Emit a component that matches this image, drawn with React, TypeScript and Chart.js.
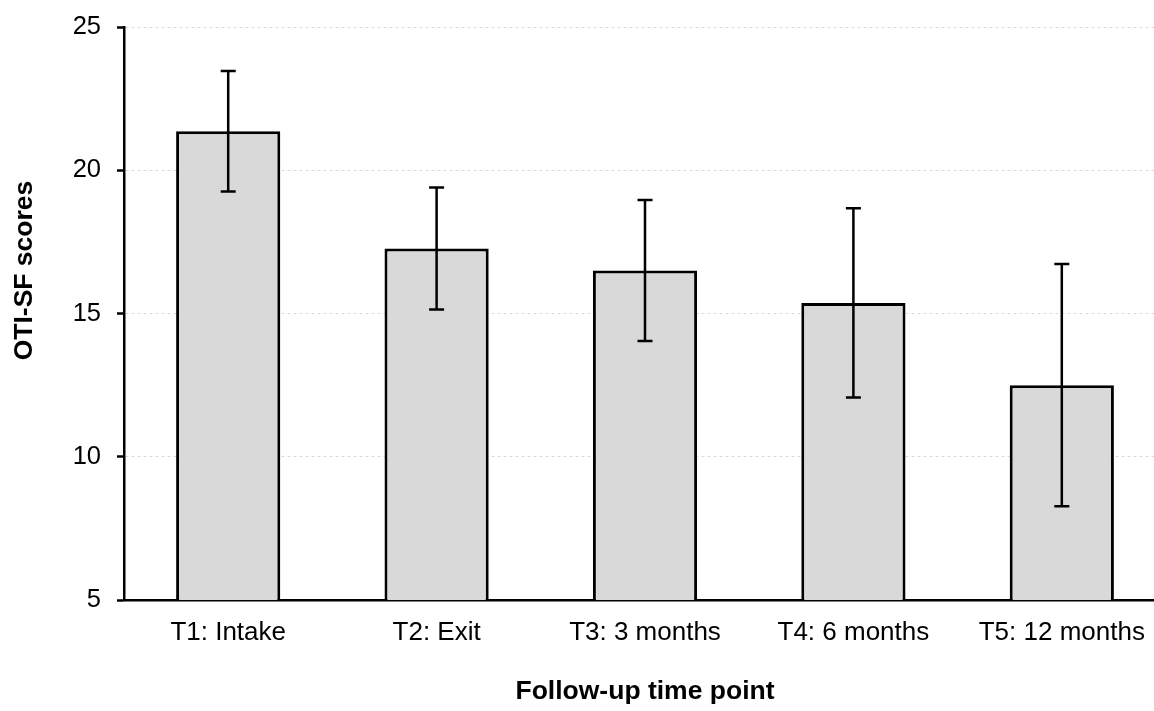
import React, { useEffect, useRef } from "react";
import { Chart, registerables } from "chart.js";

Chart.register(...registerables);

const categories = ["T1: Intake", "T2: Exit", "T3: 3 months", "T4: 6 months", "T5: 12 months"];
const meanScores = [21.36, 17.27, 16.5, 15.37, 12.5];
const sdScores = [2.1, 2.13, 2.46, 3.3, 4.23];
const yTicks = [5, 10, 15, 20, 25];
const xTitle = "Follow-up time point";
const yTitle = "OTI-SF scores";

const FONT = "'Liberation Sans', Arial, sans-serif";

const errorBarPlugin = {
  id: "errorBars",
  afterDatasetsDraw(chart: any) {
    const ctx = chart.ctx;
    const meta = chart.getDatasetMeta(0);
    const y = chart.scales.y;
    ctx.save();
    ctx.strokeStyle = "#000";
    ctx.lineWidth = 2.5;
    meta.data.forEach((bar: any, i: number) => {
      const x = bar.x;
      const top = y.getPixelForValue(meanScores[i] + sdScores[i]);
      const bot = y.getPixelForValue(meanScores[i] - sdScores[i]);
      ctx.beginPath();
      ctx.moveTo(x, top);
      ctx.lineTo(x, bot);
      ctx.moveTo(x - 7.5, top);
      ctx.lineTo(x + 7.5, top);
      ctx.moveTo(x - 7.5, bot);
      ctx.lineTo(x + 7.5, bot);
      ctx.stroke();
    });
    ctx.restore();
  },
};

const axisTitlePlugin = {
  id: "axisTitles",
  afterDraw(chart: any) {
    const ctx = chart.ctx;
    const a = chart.chartArea;
    ctx.save();
    ctx.fillStyle = "#000";
    ctx.font = `bold 26.5px ${FONT}`;
    ctx.textAlign = "center";
    ctx.textBaseline = "middle";
    ctx.fillText(xTitle, (a.left + a.right) / 2, a.bottom + 92);
    ctx.translate(25, a.top + (a.bottom - a.top) * 0.425);
    ctx.rotate(-Math.PI / 2);
    ctx.fillText(yTitle, 0, 0);
    ctx.restore();
  },
};

export default function App() {
  const ref = useRef<HTMLCanvasElement>(null);
  useEffect(() => {
    if (!ref.current) return;
    const chart = new Chart(ref.current, {
      type: "bar",
      data: {
        labels: categories,
        datasets: [
          {
            data: meanScores,
            backgroundColor: "#d9d9d9",
            borderColor: "#000",
            borderWidth: 3,
            borderSkipped: false,
            barPercentage: 0.5,
            categoryPercentage: 1,
          },
        ],
      },
      options: {
        animation: false,
        responsive: false,
        devicePixelRatio: 1,
        layout: { padding: { top: 27, right: 14, bottom: 0, left: 0 } },
        plugins: {
          legend: { display: false },
          tooltip: { enabled: false },
        },
        scales: {
          x: {
            grid: { display: false },
            border: { display: true, color: "#000", width: 2.5 },
            ticks: {
              color: "#000",
              font: { family: FONT, size: 26 },
              padding: 9,
              maxRotation: 0,
              autoSkip: false,
            },
            afterFit(scale: any) {
              scale.height = 111;
              scale.paddingLeft = 0;
              scale.paddingRight = 0;
            },
          },
          y: {
            min: 5,
            max: 25,
            afterBuildTicks(scale: any) {
              scale.ticks = yTicks.map((v) => ({ value: v }));
            },
            grid: {
              color: "#d9d9d9",
              lineWidth: 1,
              tickColor: "#000",
              tickLength: 7,
              tickWidth: 2.5,
            },
            border: { display: true, color: "#000", width: 2.5, dash: [3, 3] },
            ticks: {
              color: "#000",
              font: { family: FONT, size: 25.5 },
              padding: 16,
            },
            afterFit(scale: any) {
              scale.width = 124;
              scale.paddingTop = 0;
              scale.paddingBottom = 0;
            },
          },
        },
      },
      plugins: [errorBarPlugin, axisTitlePlugin],
    });
    return () => chart.destroy();
  }, []);
  return (
    <div
      style={{
        position: "fixed",
        left: 0,
        top: 0,
        width: 1154,
        height: 711,
        overflow: "hidden",
        background: "#fff",
      }}
    >
      <canvas ref={ref} width={1180} height={711} style={{ width: 1180, height: 711, display: "block" }} />
    </div>
  );
}
